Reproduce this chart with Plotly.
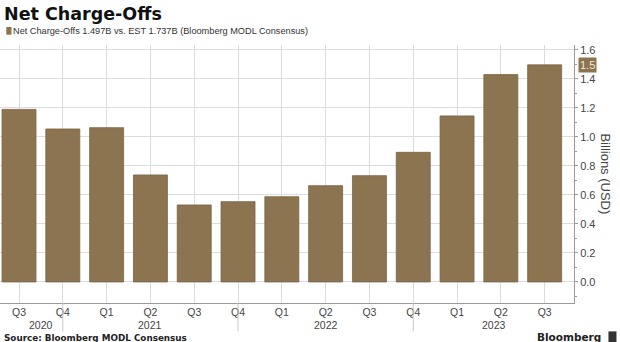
import plotly.graph_objects as go

quarters = ["Q3", "Q4", "Q1", "Q2", "Q3", "Q4", "Q1", "Q2", "Q3", "Q4", "Q1", "Q2", "Q3"]
years = ["2020", "2020", "2021", "2021", "2021", "2021", "2022", "2022", "2022", "2022", "2023", "2023", "2023"]
net_charge_offs = [1.19, 1.055, 1.064, 0.738, 0.531, 0.554, 0.588, 0.664, 0.733, 0.894, 1.145, 1.43, 1.497]
year_labels = ["2020", "2021", "2022", "2023"]
year_label_pos = [0.5, 3, 7, 10.85]
y_ticks = [0.0, 0.2, 0.4, 0.6, 0.8, 1.0, 1.2, 1.4, 1.6]

BAR = "#8c7451"
GRID = "#dcdcdc"
AX = "#9a9a9a"
TXT = "#444444"
FONT = "Liberation Sans"

x = list(range(len(quarters)))

fig = go.Figure()
fig.add_trace(go.Bar(
    x=x, y=net_charge_offs,
    marker=dict(color=BAR, line=dict(color="#7a6545", width=0.8)),
    hoverinfo="y",
))

annotations = []
# year labels
for lab, pos in zip(year_labels, year_label_pos):
    annotations.append(dict(x=pos, y=-0.085, xref="x", yref="paper", text=lab,
                            showarrow=False, yanchor="middle", xanchor="center",
                            font=dict(family=FONT, size=10.5, color=TXT)))
# title
annotations.append(dict(x=0.003, y=1.12, xref="paper", yref="paper", text="<b>Net Charge-Offs</b>",
                        showarrow=False, xanchor="left", yanchor="middle",
                        font=dict(family="DejaVu Sans", size=17.5, color="#111111")))
# legend text
annotations.append(dict(x=0.02, y=1.055, xref="paper", yref="paper",
                        text="Net Charge-Offs 1.497B vs. EST 1.737B (Bloomberg MODL Consensus)",
                        showarrow=False, xanchor="left", yanchor="middle",
                        font=dict(family=FONT, size=9.2, color="#333333")))
# source
annotations.append(dict(x=0.003, y=-0.136, xref="paper", yref="paper",
                        text="<b>Source: Bloomberg MODL Consensus</b>",
                        showarrow=False, xanchor="left", yanchor="middle",
                        font=dict(family="DejaVu Sans", size=8.8, color="#222222")))
# Bloomberg logo text
annotations.append(dict(x=1.05, y=-0.13, xref="paper", yref="paper",
                        text="<b>Bloomberg</b>",
                        showarrow=False, xanchor="right", yanchor="middle",
                        font=dict(family="DejaVu Sans", size=10.5, color="#222222")))
# y axis title
annotations.append(dict(x=1.055, y=0.5, xref="paper", yref="paper", text="Billions (USD)",
                        showarrow=False, textangle=90, xanchor="center", yanchor="middle",
                        font=dict(family=FONT, size=13, color=TXT)))
# last value badge
annotations.append(dict(x=1.007, y=net_charge_offs[-1], xref="paper", yref="y",
                        text="1.5", showarrow=False, xanchor="left", yanchor="middle",
                        bgcolor=BAR, borderpad=1,
                        font=dict(family=FONT, size=11, color="#f2ead8")))

shapes = []
# legend marker
shapes.append(dict(type="rect", xref="paper", yref="paper", x0=0.011, x1=0.02, y0=1.04, y1=1.07,
                   fillcolor=BAR, line=dict(width=0)))
# long ticks at Q4 positions
for i, q in enumerate(quarters):
    if q == "Q4":
        shapes.append(dict(type="line", xref="x", yref="paper", x0=i, x1=i, y0=0, y1=-0.11,
                           line=dict(color="#c8c8c8", width=1)))
# bloomberg icon
shapes.append(dict(type="rect", xref="paper", yref="paper", x0=1.06, x1=1.074, y0=-0.153, y1=-0.11,
                   fillcolor="#333333", line=dict(width=0)))

fig.update_layout(
    width=620, height=342,
    margin=dict(l=0, r=46, t=45, b=39),
    paper_bgcolor="white", plot_bgcolor="white",
    bargap=0.224,
    showlegend=False,
    annotations=annotations,
    shapes=shapes,
    xaxis=dict(
        range=[-0.434, 12.67],
        tickmode="array", tickvals=x, ticktext=quarters,
        showgrid=True, gridcolor=GRID, gridwidth=1,
        showline=True, linecolor=AX, linewidth=1,
        ticks="", zeroline=False,
        tickfont=dict(family=FONT, size=10.5, color=TXT),
        ticklabelstandoff=-1,
        fixedrange=True,
    ),
    yaxis=dict(
        range=[-0.145, 1.634],
        side="right",
        tickmode="array", tickvals=y_ticks, ticktext=[f"{v:.1f}" for v in y_ticks],
        showgrid=True, gridcolor=GRID, gridwidth=1,
        showline=True, linecolor=AX, linewidth=1, mirror=False,
        ticks="outside", ticklen=3, tickcolor=AX,
        minor=dict(dtick=0.1, ticks="outside", ticklen=2, tickcolor=AX, showgrid=False),
        zeroline=False,
        tickfont=dict(family=FONT, size=11, color=TXT),
        fixedrange=True,
    ),
)

fig.write_html("out.html")
